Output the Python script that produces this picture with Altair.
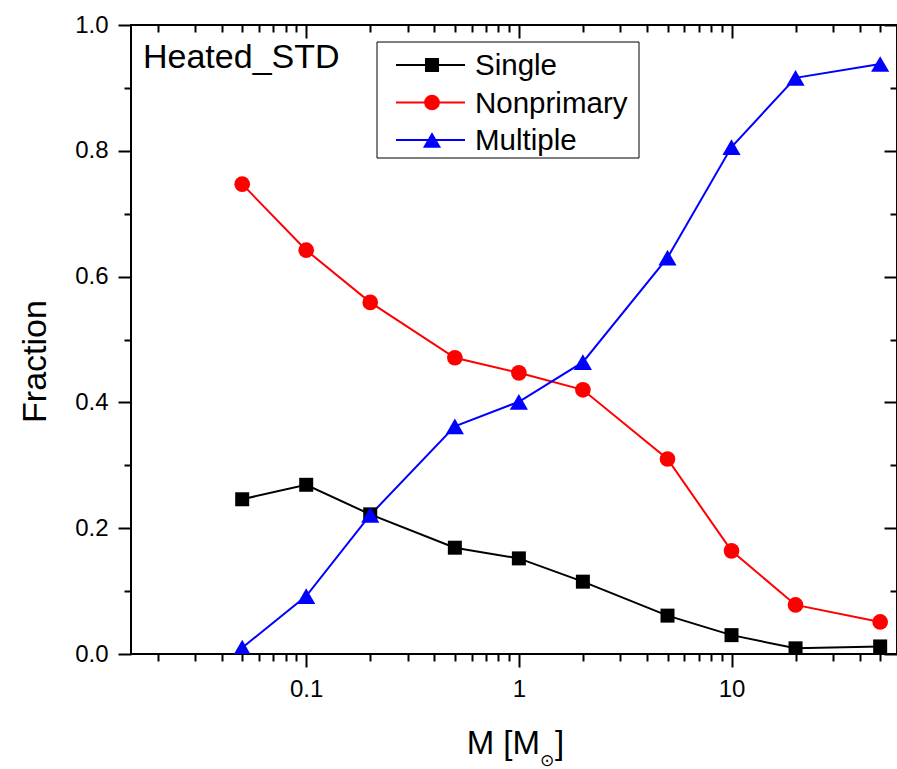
import altair as alt
import pandas as pd

# Mass bins [M_sun] and the fraction of systems in each category
masses = [0.05, 0.1, 0.2, 0.5, 1, 2, 5, 10, 20, 50]
single = [0.246, 0.269, 0.222, 0.169, 0.152, 0.115, 0.061, 0.030, 0.009, 0.012]
nonprimary = [0.747, 0.642, 0.559, 0.471, 0.447, 0.420, 0.310, 0.164, 0.078, 0.051]
multiple = [0.010, 0.092, 0.221, 0.362, 0.401, 0.464, 0.630, 0.806, 0.916, 0.938]

series_names = ["Single", "Nonprimary", "Multiple"]
series_colors = ["#000000", "#ff0000", "#0000ff"]
series_shapes = ["square", "circle", "triangle-up"]
series_sizes = [196, 246, 330]

# Axis tick positions
x_major = [0.1, 1, 10]
x_minor = [0.02, 0.03, 0.04, 0.05, 0.06, 0.07, 0.08, 0.09,
           0.2, 0.3, 0.4, 0.5, 0.6, 0.7, 0.8, 0.9,
           2, 3, 4, 5, 6, 7, 8, 9,
           20, 30, 40, 50]
y_major = [0.0, 0.2, 0.4, 0.6, 0.8, 1.0]
y_minor = [0.1, 0.3, 0.5, 0.7, 0.9]

rows = []
for name, vals in zip(series_names, [single, nonprimary, multiple]):
    for m, v in zip(masses, vals):
        rows.append({"series": name, "M": m, "fraction": v})
df = pd.DataFrame(rows)

FONT = "Liberation Sans"
W, H = 766, 629
MAJOR, MINOR = 13, 7

xs = alt.Scale(type="log", domain=[0.015, 60], nice=False)
ys = alt.Scale(domain=[0, 1], nice=False, zero=False)
color = alt.Color("series:N", scale=alt.Scale(domain=series_names, range=series_colors), legend=None)


def tick_axis(orient, values, size, offset=0, **kw):
    return alt.Axis(orient=orient, values=values, tickSize=size, offset=offset,
                    tickWidth=2, tickColor="black", domain=False, grid=False,
                    labels=False, title=None, **kw)


def axis_layer(x_axis, y_axis):
    return alt.Chart(df).mark_point(opacity=0).encode(
        x=alt.X("M:Q", scale=xs, axis=x_axis),
        y=alt.Y("fraction:Q", scale=ys, axis=y_axis),
    )


lines = alt.Chart(df).mark_line(strokeWidth=2).encode(
    x=alt.X("M:Q", scale=xs, axis=alt.Axis(
        orient="bottom", values=x_major, format="~g", tickSize=MAJOR, tickWidth=2,
        tickColor="black", domain=False, grid=False, labelFont=FONT, labelFontSize=24,
        labelColor="black", labelPadding=10, labelFlush=False, labelOverlap=False, title=None)),
    y=alt.Y("fraction:Q", scale=ys, axis=alt.Axis(
        orient="left", values=y_major, format=".1f", tickSize=MAJOR, tickWidth=2,
        tickColor="black", domain=False, grid=False, labelFont=FONT, labelFontSize=24,
        labelColor="black", labelPadding=10, title="Fraction", titleFont=FONT,
        titleFontSize=34, titleFontWeight="normal", titleColor="black", titlePadding=22,
        titleY=336)),
    color=color,
    detail="series:N",
)

# One marker layer per series, drawn in series order
point_layers = []
for name, col, shp, sz in zip(series_names, series_colors, series_shapes, series_sizes):
    point_layers.append(
        alt.Chart(df).transform_filter(alt.datum.series == name).mark_point(
            shape=shp, size=sz, color=col, filled=True, opacity=1, strokeWidth=0, clip=True
        ).encode(
            x=alt.X("M:Q", scale=xs, axis=None),
            y=alt.Y("fraction:Q", scale=ys, axis=None),
        )
    )

minor_bl = axis_layer(tick_axis("bottom", x_minor, MINOR), tick_axis("left", y_minor, MINOR))
major_tr = axis_layer(tick_axis("top", x_major, MAJOR, -MAJOR), tick_axis("right", y_major, MAJOR, -MAJOR))
minor_tr = axis_layer(tick_axis("top", x_minor, MINOR, -MINOR), tick_axis("right", y_minor, MINOR, -MINOR))

one = pd.DataFrame({"t": [""]})

# Panel label
panel_label = alt.Chart(pd.DataFrame({"t": ["Heated_STD"]})).mark_text(
    align="left", baseline="alphabetic", font=FONT, fontSize=34, color="black"
).encode(x=alt.value(12), y=alt.value(43), text="t:N")

# x-axis title with solar-mass subscript
xt_main = alt.Chart(pd.DataFrame({"t": ["M [M"]})).mark_text(
    align="right", baseline="alphabetic", font=FONT, fontSize=33, color="black"
).encode(x=alt.value(409), y=alt.value(729), text="t:N")
xt_sub = alt.Chart(pd.DataFrame({"t": ["\u2299"]})).mark_text(
    align="center", baseline="middle", font="DejaVu Sans", fontSize=17, color="black"
).encode(x=alt.value(416), y=alt.value(736), text="t:N")
xt_end = alt.Chart(pd.DataFrame({"t": ["]"]})).mark_text(
    align="left", baseline="alphabetic", font=FONT, fontSize=33, color="black"
).encode(x=alt.value(424), y=alt.value(729), text="t:N")

# Legend box with line + marker samples
legend_layers = [
    alt.Chart(one).mark_rect(fill="white", stroke="black", strokeWidth=1).encode(
        x=alt.value(246), x2=alt.value(508), y=alt.value(17), y2=alt.value(133))
]
row_top, row_gap = 40, 37.5
for i, (name, col, shp, sz) in enumerate(zip(series_names, series_colors, series_shapes, series_sizes)):
    ry = row_top + i * row_gap
    legend_layers.append(alt.Chart(one).mark_rule(color=col, strokeWidth=2).encode(
        x=alt.value(265), x2=alt.value(334), y=alt.value(ry)))
    legend_layers.append(alt.Chart(one).mark_point(
        shape=shp, size=sz, filled=True, opacity=1, strokeWidth=0, color=col).encode(
        x=alt.value(301), y=alt.value(ry)))
    legend_layers.append(alt.Chart(pd.DataFrame({"t": [name]})).mark_text(
        align="left", baseline="middle", font=FONT, fontSize=29.5, color="black").encode(
        x=alt.value(344), y=alt.value(ry + 1), text="t:N"))

chart = alt.layer(
    lines, *point_layers, minor_bl, major_tr, minor_tr,
    panel_label, xt_main, xt_sub, xt_end, *legend_layers
).resolve_axis(
    x="independent", y="independent"
).properties(
    width=W, height=H,
    autosize=alt.AutoSizeParams(type="none"),
    padding={"left": 131, "top": 25, "right": 0, "bottom": 115},
    background="white",
).configure_view(stroke="black", strokeWidth=2)

chart.save("out.html", embed_options={"renderer": "svg", "actions": False})
